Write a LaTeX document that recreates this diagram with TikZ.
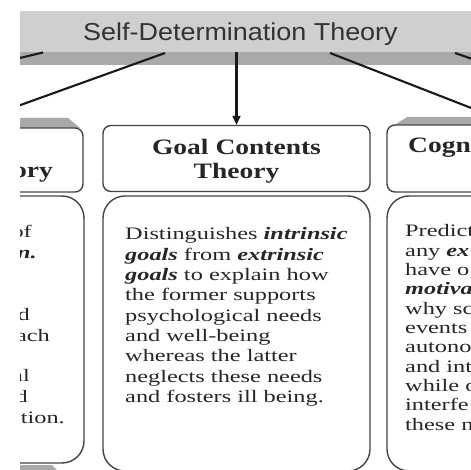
\documentclass[tikz,border=0pt]{standalone}
\usepackage{fontspec}
\setmainfont{Liberation Serif}
\newfontfamily\bodyfont{Liberation Serif}[FakeStretch=1.39]
\newfontfamily\headfont{Liberation Serif}[FakeStretch=1.25]
\newfontfamily\bannerfont{Liberation Sans}[FakeStretch=1.1]
\usetikzlibrary{arrows.meta}
\definecolor{bannergray}{HTML}{CFCFCF}
\definecolor{bandgray}{HTML}{A9A9A9}
\definecolor{edgegray}{HTML}{444444}
\newcommand{\bi}[1]{\textbf{\textit{#1}}}
\tikzset{
  headbox/.style={draw=edgegray, line width=1.4pt, rounded corners=8pt, fill=white, inner sep=0pt},
  bodybox/.style={draw=edgegray, line width=1.4pt, rounded corners=22pt, fill=white, inner sep=0pt},
  headtext/.style={font=\headfont\bfseries\fontsize{22}{24}\selectfont, text=black!85},
  bodytext/.style={anchor=base west, inner sep=0pt, font=\bodyfont\fontsize{17.5}{20}\selectfont, text=black!85},
  conn/.style={line width=2.1pt, black!90}
}
\begin{document}
\begin{tikzpicture}[x=1pt, y=-1pt]
    \useasboundingbox (0,0) rectangle (471,470);
    \clip (20,0) rectangle (471,470);

    % Banner
    \fill [bannergray] (20,11) rectangle (480,52);
    \fill [bandgray] (20,52) rectangle (480,65);
    \node [anchor=base west, inner sep=0pt, font=\bannerfont\fontsize{24.5}{28}\selectfont, text=black!80] (sdt) at (83,41) {Self-Determination Theory};
    \coordinate (band) at (0,52);

    % Bevels
    \fill [bandgray] (20,118) -- (68,118) -- (80,128) -- (20,128) -- cycle;
    \fill [bandgray] (407,117) -- (480,117) -- (480,126) -- (393,126) -- cycle;
    \fill [bandgray] (20,465) -- (52,465) -- (58,471) -- (20,471) -- cycle;

    % Nodes
    \node [headbox, minimum width=126pt, minimum height=64pt] (oitHead) at (20,160) {};
    \node [headbox, minimum width=267pt, minimum height=66pt, headtext, align=center] (gctHead) at (236.5,158.5) {\rule{0pt}{21pt}Goal Contents\\Theory};
    \node [headbox, minimum width=213pt, minimum height=67pt] (cetHead) at (493.5,158.5) {};
    \node [bodybox, minimum width=168pt, minimum height=267pt] (oitBody) at (0,329.5) {};
    \node [bodybox, minimum width=267pt, minimum height=275pt] (gctBody) at (236.5,333.5) {};
    \node [bodybox, minimum width=213pt, minimum height=275pt] (cetBody) at (493.5,333.5) {};

    \node [headtext, anchor=base east, inner sep=0pt] (oitTitle) at (53,178) {ory};
    \node [headtext, anchor=base west, inner sep=0pt] (cetTitle) at (408,153) {Cogni};

    % Texts
    \node [bodytext, anchor=base east] (oit-0) at (32,238) {of};
    \node [bodytext, anchor=base east] (oit-1) at (37,259) {\bi{n.}};
    \node [bodytext, anchor=base east] (oit-4) at (30,320) {d};
    \node [bodytext, anchor=base east] (oit-5) at (50,341) {ach};
    \node [bodytext, anchor=base east] (oit-7) at (30,381) {al};
    \node [bodytext, anchor=base east] (oit-8) at (28,402) {d};
    \node [bodytext, anchor=base east] (oit-9) at (65,423) {tion.};
    \foreach \ln [count=\i from 0] in {{Distinguishes \bi{intrinsic}}, {\bi{goals} from \bi{extrinsic}}, {\bi{goals} to explain how}, the former supports, psychological needs, and well-being, whereas the latter, neglects these needs, and fosters ill being.}
        \node [bodytext] (gct-\i) at (125,{240+20.3*\i}) {\ln};
    \foreach \ln [count=\i from 0] in {Predict, {any \bi{ex}}, have o, {\bi{motiva}}, why sc, events, autono, and int, while o, interfe, these n}
        \node [bodytext] (cet-\i) at (405,{237+19.3*\i}) {\ln};

    % Connectors
    \coordinate (farA) at (-60,77);
    \coordinate (farB) at (-60,134);
    \coordinate (farC) at (520,127);
    \coordinate (farD) at (520,75.5);
    \draw [conn] (43,52.5) -- (farA);
    \draw [conn] (165,53) -- (farB);
    \draw [conn, -{Triangle[length=9pt,width=8pt]}] (gctHead.north |- band) -- (gctHead.north);
    \draw [conn] (330,53) -- (farC);
    \draw [conn] (455,53) -- (farD);
\end{tikzpicture}
\end{document}
